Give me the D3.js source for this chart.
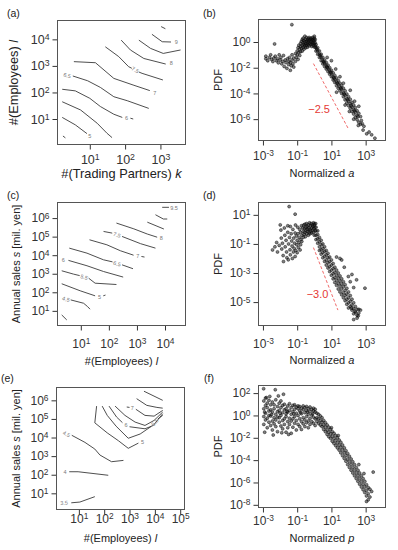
<!DOCTYPE html>
<html>
<head>
<meta charset="utf-8">
<script src="https://cdn.jsdelivr.net/npm/d3@7/dist/d3.min.js"></script>
<style>
  body { margin: 0; background: #fff; }
</style>
</head>
<body>
<svg id="fig" width="398" height="550"></svg>
<script>
// every value below is a log10 exponent

// ---- tick exponents ----
const xTicksA = [1, 2, 3];
const yTicksA = [1, 2, 3, 4];
const xTicksB = [-3, -1, 1, 3];
const yTicksB = [0, -2, -4, -6];
const xTicksC = [1, 2, 3, 4];
const yTicksC = [1, 2, 3, 4, 5, 6];
const xTicksD = [-3, -1, 1, 3];
const yTicksD = [1, -1, -3, -5];
const xTicksE = [1, 2, 3, 4, 5];
const yTicksE = [1, 2, 3, 4, 5, 6];
const xTicksF = [-3, -1, 1, 3];
const yTicksF = [2, 0, -2, -4, -6, -8];

// ---- contour lines: label text, label spot, pieces of line ----
const contA = [
  { lab: null, segs: [[[3.02, 4.48], [3.14, 4.40]]] },
  { lab: "9", at: [3.45, 3.90], segs: [[[2.76, 4.19], [3.05, 3.91], [3.30, 3.90]]] },
  { lab: null, segs: [[[2.39, 3.97], [2.72, 3.66], [3.08, 3.47], [3.57, 3.60]]] },
  { lab: "8", at: [3.31, 3.10], segs: [[[1.89, 3.97], [2.15, 3.60], [2.53, 3.28], [3.15, 3.07]]] },
  { lab: "7.5", at: [2.29, 2.85], segs: [[[1.44, 3.72], [1.82, 3.35], [2.10, 2.97], [2.19, 2.91]], [[2.39, 2.77], [2.48, 2.72], [3.07, 2.47]]] },
  { lab: "7", at: [2.84, 1.99], segs: [[[0.55, 3.16], [1.16, 3.12], [1.68, 2.53], [2.25, 2.27], [2.70, 2.07]]] },
  { lab: "6.5", at: [0.36, 2.64], segs: [[[0.52, 2.62], [0.94, 2.44], [1.30, 2.19], [1.68, 1.84], [2.06, 1.69], [2.67, 1.40]]] },
  { lab: "6", at: [2.04, 1.03], segs: [[[0.22, 2.12], [0.59, 2.06], [1.00, 1.78], [1.30, 1.47], [1.68, 1.18], [1.92, 1.06]], [[2.15, 1.03], [2.23, 1.00]]] },
  { lab: null, segs: [[[0.22, 1.65], [0.74, 1.34], [1.21, 0.84], [1.49, 0.46], [1.63, 0.30]]] },
  { lab: "5", at: [1.00, 0.36], segs: [[[0.22, 1.06], [0.59, 0.78], [0.92, 0.45]]] },
  { lab: null, segs: [[[0.24, 0.36], [0.31, 0.29]]] }
];

const contC = [
  { lab: "9.5", at: [4.32, 6.54], segs: [[[3.90, 6.58], [4.14, 6.58]]] },
  { lab: null, segs: [[[3.66, 6.18], [3.94, 5.95], [4.08, 5.95]]] },
  { lab: null, segs: [[[3.37, 5.78], [3.96, 5.41]]] },
  { lab: "8", at: [3.87, 4.90], segs: [[[2.27, 5.73], [2.89, 5.42], [3.37, 5.14], [3.72, 4.97]]] },
  { lab: "7.5", at: [2.29, 5.10], segs: [[[1.81, 5.28], [2.12, 5.19]], [[2.47, 5.01], [3.13, 4.62], [3.66, 4.38]]] },
  { lab: "7", at: [3.03, 3.97], segs: [[[1.31, 4.83], [1.93, 4.56], [2.41, 4.24], [2.88, 4.00]], [[3.16, 3.93], [3.27, 3.90]]] },
  { lab: "6.5", at: [2.29, 3.54], segs: [[[0.59, 4.38], [1.22, 4.11], [1.81, 3.75], [2.13, 3.64]], [[2.47, 3.48], [2.86, 3.27]]] },
  { lab: "6", at: [0.38, 3.75], segs: [[[0.56, 3.72], [1.22, 3.43], [1.81, 3.12], [2.51, 2.82]]] },
  { lab: "5.5", at: [1.12, 2.82], segs: [[[0.32, 3.16], [0.74, 2.98], [0.96, 2.90]], [[1.28, 2.76], [1.51, 2.49], [2.27, 2.42]]] },
  { lab: "5", at: [1.67, 1.77], segs: [[[0.32, 2.46], [0.98, 2.08], [1.51, 1.81]], [[1.80, 1.81], [1.88, 1.85]]] },
  { lab: "4.5", at: [0.47, 1.63], segs: [[[0.64, 1.59], [1.10, 1.41], [1.24, 1.23], [1.33, 1.09]]] },
  { lab: null, segs: [[[0.32, 0.78], [0.50, 0.51]]] }
];

const contE = [
  { lab: null, segs: [[[3.57, 6.49], [4.31, 6.00]]] },
  { lab: null, segs: [[[3.28, 6.09], [3.68, 5.73], [4.08, 5.62], [4.31, 5.58]]] },
  { lab: "7", at: [3.11, 5.58], segs: [[[2.89, 5.64], [3.00, 5.62]], [[3.25, 5.52], [3.61, 5.19], [3.97, 5.15], [4.31, 5.46]]] },
  { lab: null, segs: [[[2.43, 5.69], [2.82, 5.19], [3.22, 4.83], [3.61, 4.65], [3.97, 4.92], [4.31, 5.37]]] },
  { lab: "6", at: [2.86, 4.68], segs: [[[2.19, 5.69], [2.49, 5.10], [2.72, 4.80]], [[3.00, 4.58], [3.61, 4.47], [3.94, 4.65], [4.31, 5.28]]] },
  { lab: "5.5", at: [4.00, 4.82], segs: [[[1.92, 5.69], [2.12, 5.19], [2.47, 4.61], [2.95, 3.96], [3.42, 4.19], [3.86, 4.60]], [[4.12, 5.00], [4.31, 5.19]]] },
  { lab: "5", at: [3.51, 3.78], segs: [[[1.70, 5.69], [1.63, 4.79], [2.12, 4.25], [2.56, 3.83], [2.95, 3.42], [3.35, 3.70]]] },
  { lab: "4.5", at: [0.51, 4.19], segs: [[[0.72, 4.12], [1.24, 3.74], [1.63, 3.38], [1.83, 3.06], [2.29, 2.70], [2.76, 2.77]]] },
  { lab: "4", at: [0.45, 2.14], segs: [[[0.62, 2.16], [0.97, 2.16], [2.16, 1.97]]] },
  { lab: "3.5", at: [0.42, 0.49], segs: [[[0.70, 0.49], [1.04, 0.53], [1.63, 0.82]]] }
];

// ---- scatter clouds [log10 x, log10 PDF] ----
const pdfB = [
  [-1.31, 1.35], [-2.32, -0.15],
  [-2.83, -1.1], [-2.83, -1.3], [-2.72, -1.45], [-2.62, -1.2], [-2.55, -1.0], [-2.5, -1.35], [-2.42, -1.52], [-2.36, -1.25],
  [-2.28, -1.1], [-2.22, -1.45], [-2.15, -1.3], [-2.1, -1.62], [-2.05, -1.0], [-2.0, -1.4],
  [-1.95, -1.2], [-1.9, -1.7], [-1.85, -1.5], [-1.8, -1.05], [-1.76, -1.9], [-1.7, -1.4], [-1.66, -1.6], [-1.6, -2.05],
  [-1.56, -1.3], [-1.5, -1.75], [-1.48, -1.5], [-1.45, -1.2], [-1.4, -2.2], [-1.4, -1.6], [-1.35, -1.85], [-1.3, -1.4],
  [-1.3, -1.0], [-1.25, -1.7], [-1.2, -1.25], [-1.2, -1.95],
  [-1.1, -1.5], [-1.1, -0.9], [-1.05, -1.2], [-1.0, -0.7], [-1.0, -1.0], [-0.95, -1.35], [-0.95, -0.45], [-0.9, -0.8],
  [-0.9, -0.25], [-0.85, -1.05], [-0.85, -0.55], [-0.8, -0.1], [-0.8, -0.35], [-0.8, -0.75], [-0.75, -0.5], [-0.75, 0.05],
  [-0.7, -0.25], [-0.7, -0.7], [-0.7, 0.2],
  [-0.65, -0.4], [-0.65, -0.05], [-0.65, 0.3], [-0.6, -0.2], [-0.6, 0.1], [-0.6, -0.55], [-0.55, 0.45], [-0.55, -0.3],
  [-0.55, 0.0], [-0.5, 0.2], [-0.5, -0.15], [-0.5, -0.45], [-0.45, 0.05], [-0.45, -0.25], [-0.45, 0.35], [-0.4, -0.1],
  [-0.4, 0.15], [-0.4, -0.4], [-0.35, 0.25], [-0.35, -0.2], [-0.35, 0.0], [-0.3, 0.1], [-0.3, -0.3], [-0.3, 0.35],
  [-0.25, -0.1], [-0.25, 0.2], [-0.2, -0.2], [-0.2, 0.05], [-0.2, 0.3], [-0.15, -0.05], [-0.15, -0.35], [-0.15, 0.2],
  [-0.1, 0.1], [-0.1, -0.15], [-0.1, 0.35], [-0.05, -0.05], [-0.05, 0.2], [-0.05, -0.3], [0.0, 0.45], [0.0, 0.3],
  [0.0, 0.1], [0.0, -0.15], [0.02, -0.4], [0.05, 0.2], [0.05, -0.05], [0.05, -0.3],
  [0.1, -0.2], [0.1, -0.45], [0.1, -0.7], [0.15, -0.55], [0.2, -0.45], [0.2, -0.7], [0.2, -0.95],
  [0.3, -0.7], [0.3, -0.95], [0.3, -1.2], [0.35, -1.05], [0.4, -0.95], [0.4, -1.2], [0.4, -1.45],
  [0.5, -1.2], [0.5, -1.45], [0.5, -1.7], [0.55, -1.55], [0.6, -1.4], [0.6, -1.65], [0.6, -1.9],
  [0.7, -1.6], [0.7, -1.85], [0.7, -2.1], [0.75, -1.95], [0.8, -1.8], [0.8, -2.05], [0.8, -2.3],
  [0.9, -2.0], [0.9, -2.25], [0.9, -2.5], [0.95, -2.35], [1.0, -2.2], [1.0, -2.45], [1.0, -2.7],
  [1.1, -2.4], [1.1, -2.7], [1.1, -2.95], [1.15, -2.8], [1.2, -2.6], [1.2, -2.9], [1.2, -3.15],
  [1.3, -2.8], [1.3, -3.1], [1.3, -3.4], [1.35, -3.2], [1.4, -3.0], [1.4, -3.3], [1.4, -3.6],
  [1.5, -3.2], [1.5, -3.5], [1.5, -3.8], [1.55, -3.6], [1.6, -3.4], [1.6, -3.7], [1.6, -4.0],
  [1.7, -3.6], [1.7, -3.95], [1.7, -4.25], [1.75, -4.05], [1.8, -3.8], [1.8, -4.15], [1.8, -4.5],
  [1.9, -4.05], [1.9, -4.4], [1.9, -4.75], [1.95, -4.5], [2.0, -4.25], [2.0, -4.6], [2.0, -4.95],
  [2.1, -4.45], [2.1, -4.8], [2.1, -5.15], [2.15, -4.95], [2.2, -4.7], [2.2, -5.05], [2.2, -5.4],
  [2.3, -4.9], [2.3, -5.25], [2.3, -5.6], [2.35, -5.35], [2.4, -5.1], [2.4, -5.45], [2.4, -5.85],
  [2.5, -5.35], [2.5, -5.7], [2.5, -6.05], [2.55, -5.8], [2.6, -5.55], [2.6, -6.25], [2.7, -5.8],
  [2.7, -6.4], [2.75, -6.1], [2.8, -6.35], [2.9, -6.55],
  [2.57, -6.49], [2.85, -6.85], [3.06, -7.14], [3.2, -7.0], [3.35, -7.22], [3.54, -7.48],
  [0.75, -1.2], [1.0, -1.45], [1.25, -2.1], [1.5, -2.7], [1.7, -3.2], [2.1, -3.75], [2.35, -4.6], [2.6, -5.0],
  [1.3, -3.9], [1.8, -4.9], [2.3, -6.0], [2.05, -5.4]
];

const pdfD = [
  [-1.47, 1.57], [-1.12, 1.05], [0.01, 0.38],
  [-2.44, -1.41], [-2.3, -1.2], [-2.2, -0.9], [-2.15, -1.55], [-2.05, -1.1], [-1.99, 0.31], [-1.95, -0.05], [-1.93, -0.6],
  [-1.9, -1.35], [-1.86, -0.95], [-1.82, -1.8], [-1.8, -2.21], [-1.75, 0.1], [-1.72, -0.4], [-1.7, -1.2], [-1.65, -0.75],
  [-1.62, -1.55], [-1.6, -1.95], [-1.55, 0.25], [-1.55, -0.2], [-1.52, -2.09], [-1.5, -1.0], [-1.45, -0.55], [-1.42, -1.4],
  [-1.4, 0.2], [-1.4, -1.75], [-1.35, -0.3], [-1.32, -0.8], [-1.3, -1.15], [-1.28, -2.0], [-1.25, 0.0], [-1.22, -1.55],
  [-1.2, -0.6], [-1.18, -1.3], [-1.15, -0.95], [-1.12, -0.25], [-1.12, -1.86], [-1.1, 0.3], [-1.08, -1.45], [-1.05, -0.45],
  [-1.02, -1.06], [-1.0, -0.75], [-1.0, -1.6], [-0.97, 0.15], [-0.95, -0.3], [-0.93, -1.25], [-0.9, -0.9], [-0.88, -0.55],
  [-0.85, 0.0], [-0.83, -1.41], [-0.8, -0.2], [-0.8, -1.05], [-0.78, -0.7], [-0.75, 0.25], [-0.73, -0.83], [-0.72, -0.4],
  [-0.68, 0.1], [-0.65, -0.15], [-0.65, -0.55], [-0.62, 0.3], [-0.6, -0.35], [-0.58, 0.05], [-0.55, -0.2], [-0.55, 0.35],
  [-0.52, -0.5], [-0.5, 0.15], [-0.48, -0.05], [-0.45, -0.3], [-0.45, 0.4], [-0.42, 0.2], [-0.4, -0.15], [-0.38, 0.0],
  [-0.35, -0.4], [-0.35, 0.3], [-0.32, 0.1], [-0.3, -0.2], [-0.28, 0.45], [-0.25, 0.0], [-0.25, -0.3], [-0.22, 0.25],
  [-0.2, -0.1], [-0.18, 0.4], [-0.15, 0.1], [-0.15, -0.25], [-0.12, 0.3], [-0.1, -0.05], [-0.08, 0.2], [-0.05, 0.45],
  [-0.05, -0.2], [-0.02, 0.05], [0.0, 0.3], [0.0, -0.4], [0.03, 0.15], [0.05, -0.1], [0.08, 0.4],
  [0.1, -0.1], [0.1, -0.4], [0.1, -0.7], [0.1, 0.15], [0.2, -0.35], [0.2, -0.65], [0.2, -0.95], [0.2, -0.1],
  [0.3, -0.55], [0.3, -0.85], [0.3, -1.2], [0.3, -1.45], [0.4, -0.75], [0.4, -1.05], [0.4, -1.4], [0.4, -1.7],
  [0.5, -1.0], [0.5, -1.3], [0.5, -1.6], [0.5, -1.95], [0.6, -1.2], [0.6, -1.5], [0.6, -1.85], [0.6, -2.2],
  [0.7, -1.45], [0.7, -1.75], [0.7, -2.1], [0.7, -2.45], [0.8, -1.65], [0.8, -1.95], [0.8, -2.3], [0.8, -2.65],
  [0.9, -1.9], [0.9, -2.2], [0.9, -2.55], [0.9, -2.9], [1.0, -2.1], [1.0, -2.45], [1.0, -2.8], [1.0, -3.15],
  [1.1, -2.35], [1.1, -2.7], [1.1, -3.05], [1.1, -3.4], [1.2, -2.6], [1.2, -2.95], [1.2, -3.3], [1.2, -3.65],
  [1.3, -2.8], [1.3, -3.15], [1.3, -3.5], [1.3, -3.85], [1.4, -3.0], [1.4, -3.35], [1.4, -3.7], [1.4, -4.1],
  [1.5, -3.2], [1.5, -3.55], [1.5, -3.9], [1.5, -4.3], [1.6, -3.4], [1.6, -3.75], [1.6, -4.1], [1.6, -4.5],
  [1.7, -3.6], [1.7, -3.95], [1.7, -4.35], [1.7, -4.7], [1.8, -3.8], [1.8, -4.2], [1.8, -4.55], [1.8, -4.9],
  [1.9, -4.05], [1.9, -4.45], [1.9, -4.8], [1.9, -5.15], [2.0, -4.3], [2.0, -4.7], [2.0, -5.05], [2.0, -5.4],
  [2.1, -4.55], [2.1, -4.95], [2.1, -5.3], [2.2, -4.8], [2.2, -5.2], [2.2, -5.55], [2.3, -5.05], [2.3, -5.45],
  [2.3, -5.8], [2.4, -5.3], [2.4, -5.7], [2.5, -5.5], [2.5, -5.9], [2.6, -5.75],
  [2.18, -5.41], [2.38, -5.64], [2.57, -5.94], [2.3, -6.2], [2.5, -6.1], [2.6, -5.5], [2.7, -5.55],
  [1.5, -2.0], [1.6, -2.1], [1.75, -2.6], [1.99, -3.24], [2.2, -3.1], [2.47, -3.47], [2.96, -4.04], [2.3, -4.0],
  [1.3, -1.9], [2.1, -3.6]
];

const pdfF = [
  [-2.96, 2.39], [-2.28, 2.3], [-1.8, 1.9], [-2.8, 1.6], [-2.6, 1.7], [-2.1, 1.75], [-2.9, -1.5], [-2.4, -1.75],
  [-1.5, -1.7], [-1.9, -1.55],
  [-2.95, 1.3], [-2.95, 0.6], [-2.95, -0.1], [-2.95, -0.8], [-2.85, 1.55], [-2.85, 0.2], [-2.85, -0.4], [-2.85, 0.9],
  [-2.75, 0.7], [-2.75, -0.25], [-2.75, -1.1], [-2.75, 1.1], [-2.65, 0.4], [-2.65, -0.6], [-2.65, 1.35], [-2.65, 0.0],
  [-2.55, 0.95], [-2.55, -0.05], [-2.55, -0.9], [-2.55, 0.5], [-2.45, 1.2], [-2.45, 0.3], [-2.45, -0.5], [-2.45, -1.3],
  [-2.35, 0.6], [-2.35, -0.2], [-2.35, 0.95], [-2.35, -0.75], [-2.25, 1.4], [-2.25, 0.1], [-2.25, -0.4], [-2.25, -1.0],
  [-2.15, 0.8], [-2.15, -0.15], [-2.15, 0.35], [-2.15, -1.45], [-2.05, 1.1], [-2.05, 0.45], [-2.05, -0.6], [-2.05, -0.2],
  [-1.95, 0.7], [-1.95, 0.0], [-1.95, -0.95], [-1.95, 1.3], [-1.85, 0.25], [-1.85, -0.45], [-1.85, 0.9], [-1.85, -1.2],
  [-1.75, 1.0], [-1.75, 0.5], [-1.75, -0.3], [-1.75, -0.8], [-1.65, 0.6], [-1.65, -0.1], [-1.65, -1.5], [-1.65, 0.15],
  [-1.55, 0.85], [-1.55, 0.3], [-1.55, -0.55], [-1.55, -1.1], [-1.45, 0.45], [-1.45, -0.25], [-1.45, 1.05], [-1.45, -0.8],
  [-1.35, 0.7], [-1.35, 0.1], [-1.35, -0.5], [-1.35, -1.6], [-1.25, 0.9], [-1.25, 0.35], [-1.25, -0.3], [-1.25, -1.05],
  [-1.15, 0.55], [-1.15, -0.1], [-1.15, -0.7], [-1.15, 0.95], [-1.05, 0.75], [-1.05, 0.2], [-1.05, -0.45], [-1.05, -1.3],
  [-0.95, 0.6], [-0.95, 0.0], [-0.95, -0.8], [-0.95, 0.85], [-0.85, 0.4], [-0.85, -0.3], [-0.85, 0.8], [-0.85, -1.0],
  [-0.75, 0.65], [-0.75, 0.15], [-0.75, -0.55], [-0.75, -1.25], [-0.65, 0.5], [-0.65, -0.2], [-0.65, 0.85], [-0.65, -0.75],
  [-0.55, 0.7], [-0.55, 0.25], [-0.55, -0.4], [-0.55, -1.0], [-0.45, 0.45], [-0.45, -0.1], [-0.45, 0.8], [-0.45, -0.65],
  [-0.35, 0.6], [-0.35, 0.1], [-0.35, -0.5], [-0.35, -1.1], [-0.25, 0.35], [-0.25, -0.25], [-0.25, 0.75], [-0.25, -0.8],
  [-0.15, 0.55], [-0.15, 0.05], [-0.15, -0.55], [-0.05, 0.4], [-0.05, -0.15], [-0.05, 0.65], [-0.05, -0.7],
  [0.05, 0.3], [0.05, -0.3], [0.05, 0.55], [0.05, -0.9],
  [-2.9, 0.3], [-2.5, 0.1], [-2.0, 0.2], [-1.6, 0.35], [-1.2, 0.15], [-0.8, 0.25], [-0.4, 0.3], [-0.1, 0.15],
  [0.15, 0.2], [0.15, -0.2], [0.15, -0.55], [0.25, 0.1], [0.25, -0.3], [0.25, -0.7], [0.35, -0.05], [0.35, -0.45],
  [0.35, -0.85], [0.45, -0.2], [0.45, -0.6], [0.45, -1.0], [0.55, -0.45], [0.55, -0.85], [0.55, -1.25], [0.65, -0.65],
  [0.65, -1.05], [0.65, -1.45], [0.75, -0.85], [0.75, -1.3], [0.75, -1.7], [0.85, -1.05], [0.85, -1.5], [0.85, -1.9],
  [0.95, -1.25], [0.95, -1.65], [0.95, -2.05], [1.05, -1.45], [1.05, -1.85], [1.05, -2.3], [1.15, -1.6], [1.15, -2.05],
  [1.15, -2.5], [1.25, -1.8], [1.25, -2.25], [1.25, -2.7], [1.35, -2.0], [1.35, -2.45], [1.35, -2.9], [1.45, -2.2],
  [1.45, -2.65], [1.45, -3.1], [1.55, -2.4], [1.55, -2.85], [1.55, -3.35], [1.65, -2.65], [1.65, -3.1], [1.65, -3.6],
  [1.75, -2.9], [1.75, -3.35], [1.75, -3.85], [1.85, -3.15], [1.85, -3.6], [1.85, -4.1], [1.95, -3.4], [1.95, -3.9],
  [1.95, -4.4], [2.05, -3.65], [2.05, -4.15], [2.05, -4.65], [2.15, -3.9], [2.15, -4.4], [2.15, -4.9], [2.25, -4.15],
  [2.25, -4.65], [2.25, -5.15], [2.35, -4.4], [2.35, -4.9], [2.35, -5.4], [2.45, -4.65], [2.45, -5.15], [2.45, -5.65],
  [2.55, -4.9], [2.55, -5.4], [2.55, -5.9], [2.65, -5.15], [2.65, -5.65], [2.65, -6.15], [2.75, -5.4], [2.75, -5.9],
  [2.75, -6.4], [2.85, -5.65], [2.85, -6.15], [2.85, -6.65], [2.95, -5.9], [2.95, -6.4], [2.95, -6.9], [3.05, -6.2],
  [3.05, -6.7], [3.05, -7.2], [3.05, -7.7], [3.15, -6.45], [3.15, -7.0], [3.25, -6.6], [3.25, -7.3], [3.35, -6.8],
  [3.44, -5.07], [3.15, -7.55], [2.9, -5.2], [2.6, -4.4], [1.4, -1.8], [1.0, -1.1]
];

// ---- slope guides ----
const slopeB = { from: [-0.05, -1.68], to: [1.99, -6.75], text: "\u22122.5", at: [0.28, -5.2] };
const slopeD = { from: [-0.05, -1.25], to: [1.38, -5.55], text: "\u22123.0", at: [0.19, -4.45] };

// ---- layout (pixels) ----
const FONT = '"Liberation Sans", Arial, Helvetica, sans-serif';
const panels = [
  { tag: "(a)", tagAt: [7, 17], box: [57.5, 185.5, 20.5, 144.5], xd: [0.086, 3.71], yd: [0.04, 4.71],
    xt: xTicksA, yt: yTicksA, xlab: 163.5, tickSize: 12.5, titleSize: 12.8,
    xTitle: ["#(Trading Partners) ", "k"], xTitleY: 178, yTitle: ["#(Employees) ", "l"], yTitleX: 17.5, contours: contA },
  { tag: "(b)", tagAt: [203, 17], box: [258.5, 385.5, 19.5, 140.5], xd: [-3.26, 4.16], yd: [-7.66, 1.75],
    xt: xTicksB, yt: yTicksB, xlab: 160, tickSize: 12, titleSize: 11,
    xTitle: ["Normalized ", "a"], xTitleY: 176.5, yTitle: ["PDF", ""], yTitleX: 221.5, points: pdfB, slope: slopeB },
  { tag: "(c)", tagAt: [7, 199], box: [57.5, 185.5, 202.5, 325.5], xd: [0.17, 4.73], yd: [0.21, 6.84],
    xt: xTicksC, yt: yTicksC, xlab: 348, tickSize: 12, titleSize: 11,
    xTitle: ["#(Employees) ", "l"], xTitleY: 365, yTitle: ["Annual sales ", "s", " [mil. yen]"], yTitleX: 19.8, contours: contC },
  { tag: "(d)", tagAt: [203, 199], box: [258.5, 385.5, 202.5, 325.5], xd: [-3.26, 4.16], yd: [-6.61, 1.85],
    xt: xTicksD, yt: yTicksD, xlab: 348, tickSize: 12, titleSize: 11,
    xTitle: ["Normalized ", "a"], xTitleY: 364, yTitle: ["PDF", ""], yTitleX: 222, points: pdfD, slope: slopeD },
  { tag: "(e)", tagAt: [1, 382], box: [56.5, 184.5, 387.5, 509.5], xd: [0.117, 5.17], yd: [0.13, 6.69],
    xt: xTicksE, yt: yTicksE, xlab: 523, tickSize: 12, titleSize: 11,
    xTitle: ["#(Employees) ", "l"], xTitleY: 541.5, yTitle: ["Annual sales ", "s", " [mil. yen]"], yTitleX: 19.8, contours: contE },
  { tag: "(f)", tagAt: [204, 382], box: [258.5, 385.5, 385.5, 507.5], xd: [-3.26, 4.16], yd: [-8.24, 2.68],
    xt: xTicksF, yt: yTicksF, xlab: 525, tickSize: 12, titleSize: 11,
    xTitle: ["Normalized ", "p"], xTitleY: 542, yTitle: ["PDF", ""], yTitleX: 222, points: pdfF }
];

const svg = d3.select("#fig").attr("font-family", FONT);

// "10" with the exponent raised
function powerLabels(sel, size) {
  sel.each(function (d) {
    const e = Math.round(Math.log10(d));
    const t = d3.select(this).text("10");
    t.append("tspan").attr("dy", "-0.45em").attr("font-size", size * 0.7)
      .text(e < 0 ? "-" + (-e) : String(e));
  });
}

// italic parts sit at odd indexes
function richText(t, parts) {
  parts.forEach((s, i) => {
    if (!s) return;
    t.append("tspan").attr("font-style", i % 2 ? "italic" : null).text(s);
  });
}

function drawPanel(P) {
  const [x0, x1, y0, y1] = P.box;
  const x = d3.scaleLog().domain([10 ** P.xd[0], 10 ** P.xd[1]]).range([x0, x1]);
  const y = d3.scaleLog().domain([10 ** P.yd[0], 10 ** P.yd[1]]).range([y1, y0]);
  const g = svg.append("g");

  // axes
  const xa = g.append("g")
    .attr("transform", `translate(0,${y1})`)
    .call(d3.axisBottom(x).tickValues(P.xt.map(e => 10 ** e)).tickSize(5).tickSizeOuter(0).tickFormat(() => ""));
  xa.attr("font-family", FONT).attr("font-size", P.tickSize).style("color", "#333");
  xa.select(".domain").remove();
  xa.selectAll(".tick text").attr("y", P.xlab - y1).attr("dy", null).call(powerLabels, P.tickSize);

  const ya = g.append("g")
    .attr("transform", `translate(${x0},0)`)
    .call(d3.axisLeft(y).tickValues(P.yt.map(e => 10 ** e)).tickSize(5).tickPadding(3).tickSizeOuter(0).tickFormat(() => ""));
  ya.attr("font-family", FONT).attr("font-size", P.tickSize).style("color", "#333");
  ya.select(".domain").remove();
  ya.selectAll(".tick text").call(powerLabels, P.tickSize);

  // contours
  if (P.contours) {
    const line = d3.line().x(d => x(10 ** d[0])).y(d => y(10 ** d[1]));
    const cg = g.append("g");
    P.contours.forEach(c => {
      c.segs.forEach(s => {
        cg.append("path").attr("d", line(s)).attr("fill", "none")
          .attr("stroke", "#3a3a3a").attr("stroke-width", 0.9);
      });
      if (c.lab) {
        const px = x(10 ** c.at[0]), py = y(10 ** c.at[1]);
        const all = c.segs.flat().map(d => [x(10 ** d[0]), y(10 ** d[1])])
          .sort((a, b) => Math.hypot(a[0] - px, a[1] - py) - Math.hypot(b[0] - px, b[1] - py));
        let ang = 0;
        if (c.lab.length > 1 && all.length > 1) {
          const [p, q] = all[0][0] < all[1][0] ? [all[0], all[1]] : [all[1], all[0]];
          ang = Math.atan2(q[1] - p[1], q[0] - p[0]) * 180 / Math.PI;
          ang = Math.max(-60, Math.min(60, ang));
        }
        cg.append("text").attr("x", px).attr("y", py)
          .attr("transform", `rotate(${ang},${px},${py})`)
          .attr("text-anchor", "middle").attr("dominant-baseline", "central")
          .attr("font-size", 5.5).attr("fill", "#777").text(c.lab);
      }
    });
  }

  // scatter
  if (P.points) {
    g.append("g").selectAll("circle").data(P.points).join("circle")
      .attr("cx", d => x(10 ** d[0])).attr("cy", d => y(10 ** d[1])).attr("r", 1.5)
      .attr("fill", "#1a1a1a").attr("fill-opacity", 0.55)
      .attr("stroke", "#000").attr("stroke-opacity", 0.8).attr("stroke-width", 0.55);
  }

  // slope guide
  if (P.slope) {
    const S = P.slope;
    g.append("line")
      .attr("x1", x(10 ** S.from[0])).attr("y1", y(10 ** S.from[1]))
      .attr("x2", x(10 ** S.to[0])).attr("y2", y(10 ** S.to[1]))
      .attr("stroke", "#f06a6a").attr("stroke-width", 1).attr("stroke-dasharray", "3,2");
    g.append("text").attr("x", x(10 ** S.at[0])).attr("y", y(10 ** S.at[1]))
      .attr("text-anchor", "middle").attr("dominant-baseline", "central")
      .attr("font-size", 11).attr("fill", "#e53935").text(S.text);
  }

  // frame
  g.append("rect").attr("x", x0).attr("y", y0).attr("width", x1 - x0).attr("height", y1 - y0)
    .attr("fill", "none").attr("stroke", "#555").attr("stroke-width", 1);

  // titles
  richText(g.append("text").attr("x", (x0 + x1) / 2).attr("y", P.xTitleY)
    .attr("text-anchor", "middle").attr("font-size", P.titleSize).attr("fill", "#222"), P.xTitle);
  richText(g.append("text")
    .attr("transform", `translate(${P.yTitleX},${(y0 + y1) / 2}) rotate(-90)`)
    .attr("text-anchor", "middle").attr("font-size", P.titleSize).attr("fill", "#222"), P.yTitle);
  g.append("text").attr("x", P.tagAt[0]).attr("y", P.tagAt[1])
    .attr("font-size", 10.5).attr("fill", "#222").text(P.tag);
}

panels.forEach(drawPanel);
</script>
</body>
</html>
